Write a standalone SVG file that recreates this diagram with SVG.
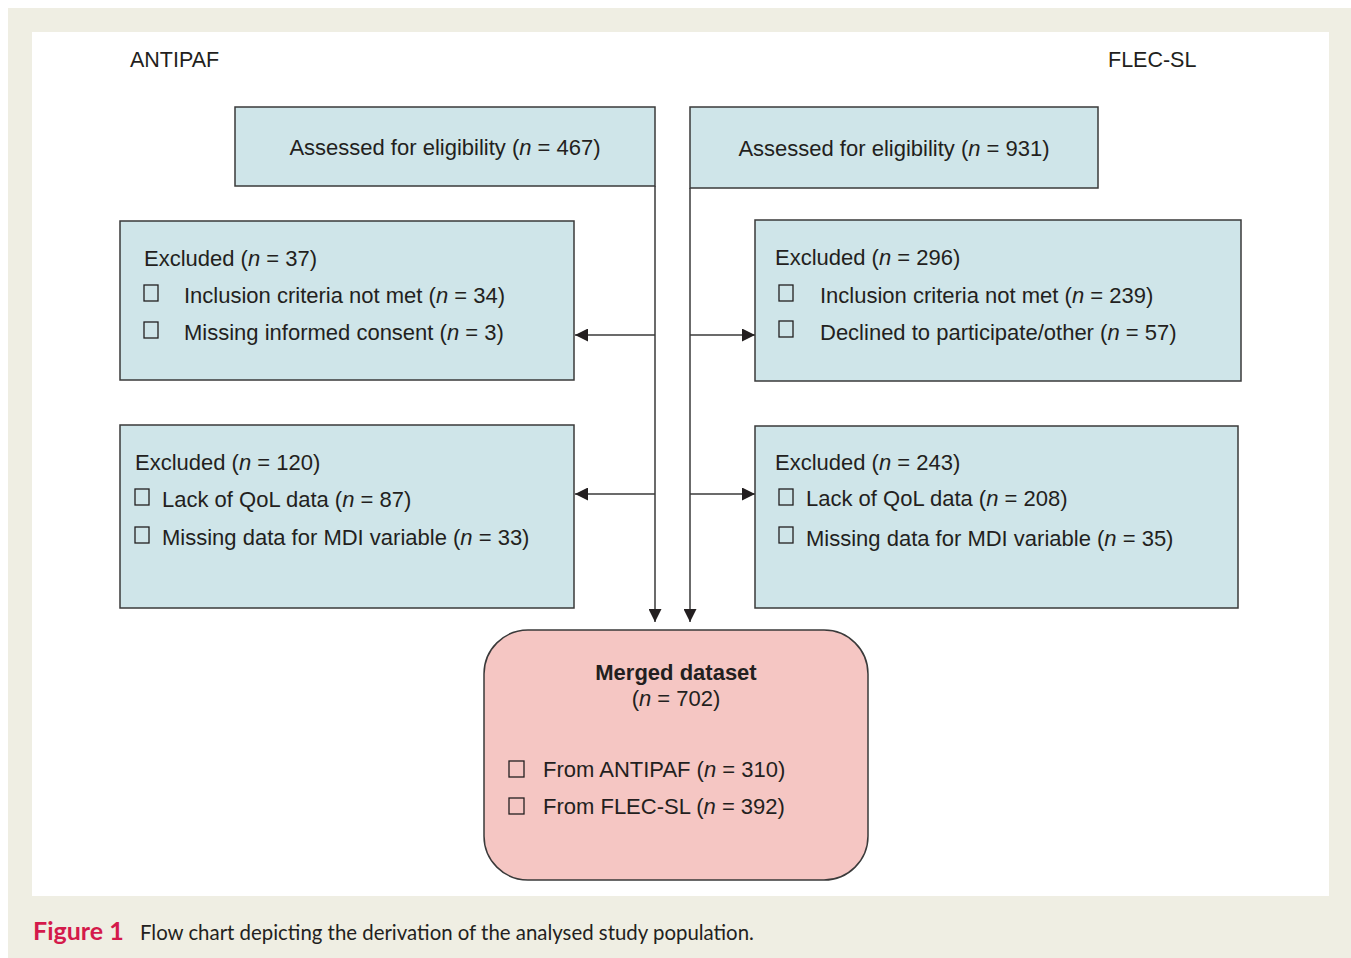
<svg xmlns="http://www.w3.org/2000/svg" width="1351" height="958" viewBox="0 0 1351 958">
<defs>
<style>
.t{font-family:"Liberation Sans",Arial,sans-serif;font-size:22px;fill:#231f20}
.b{fill:#cfe5e9;stroke:#3a3a3a;stroke-width:1.5}
.m{fill:#f5c6c3;stroke:#3a3a3a;stroke-width:1.5}
.cb{fill:none;stroke:#231f20;stroke-width:1.3}
.ln{stroke:#3a3a3a;stroke-width:1.5;fill:none}
.cap{font-family:Lato,"Open Sans",sans-serif;font-size:20.4px;fill:#231f20}
</style>
<marker id="ah2" viewBox="0 0 13 13" refX="13" refY="6.5" markerWidth="13" markerHeight="13" markerUnits="userSpaceOnUse" orient="auto">
<path d="M0,0 L13,6.5 L0,13 z" fill="#231f20"/>
</marker>
</defs>
<rect x="0" y="0" width="1351" height="958" fill="#ffffff"/>
<rect x="8" y="8" width="1343" height="950" fill="#efeee3"/>
<rect x="32" y="32" width="1297" height="864" fill="#ffffff"/>
<text class="t" x="130" y="67" style="font-size:21.5px">ANTIPAF</text>
<text class="t" x="1108" y="67" style="font-size:21.5px">FLEC-SL</text>

<g id="connectors">
<line class="ln" x1="655" y1="186" x2="655" y2="622" marker-end="url(#ah2)"/>
<line class="ln" x1="690" y1="188" x2="690" y2="622" marker-end="url(#ah2)"/>
<line class="ln" x1="655" y1="335" x2="575" y2="335" marker-end="url(#ah2)"/>
<line class="ln" x1="690" y1="335" x2="755" y2="335" marker-end="url(#ah2)"/>
<line class="ln" x1="655" y1="494" x2="575" y2="494" marker-end="url(#ah2)"/>
<line class="ln" x1="690" y1="494" x2="755" y2="494" marker-end="url(#ah2)"/>
</g>

<g id="antipaf-assessed">
<rect class="b" x="235" y="107" width="420" height="79"/>
<text class="t" x="445" y="155" text-anchor="middle">Assessed for eligibility (<tspan font-style="italic">n</tspan> = 467)</text>
</g>
<g id="flec-assessed">
<rect class="b" x="690" y="107" width="408" height="81"/>
<text class="t" x="894" y="156" text-anchor="middle">Assessed for eligibility (<tspan font-style="italic">n</tspan> = 931)</text>
</g>

<g id="antipaf-excluded1">
<rect class="b" x="120" y="221" width="454" height="159"/>
<text class="t" x="144" y="266">Excluded (<tspan font-style="italic">n</tspan> = 37)</text>
<rect class="cb" x="144" y="285" width="14" height="16"/>
<text class="t" x="184" y="303">Inclusion criteria not met (<tspan font-style="italic">n</tspan> = 34)</text>
<rect class="cb" x="144" y="322" width="14" height="16"/>
<text class="t" x="184" y="340">Missing informed consent (<tspan font-style="italic">n</tspan> = 3)</text>
</g>

<g id="flec-excluded1">
<rect class="b" x="755" y="220" width="486" height="161"/>
<text class="t" x="775" y="265">Excluded (<tspan font-style="italic">n</tspan> = 296)</text>
<rect class="cb" x="779" y="285" width="14" height="16"/>
<text class="t" x="820" y="303">Inclusion criteria not met (<tspan font-style="italic">n</tspan> = 239)</text>
<rect class="cb" x="779" y="321" width="14" height="16"/>
<text class="t" x="820" y="340">Declined to participate/other (<tspan font-style="italic">n</tspan> = 57)</text>
</g>

<g id="antipaf-excluded2">
<rect class="b" x="120" y="425" width="454" height="183"/>
<text class="t" x="135" y="470">Excluded (<tspan font-style="italic">n</tspan> = 120)</text>
<rect class="cb" x="135" y="489" width="14" height="16"/>
<text class="t" x="162" y="507">Lack of QoL data (<tspan font-style="italic">n</tspan> = 87)</text>
<rect class="cb" x="135" y="527" width="14" height="16"/>
<text class="t" x="162" y="545">Missing data for MDI variable (<tspan font-style="italic">n</tspan> = 33)</text>
</g>

<g id="flec-excluded2">
<rect class="b" x="755" y="426" width="483" height="182"/>
<text class="t" x="775" y="470">Excluded (<tspan font-style="italic">n</tspan> = 243)</text>
<rect class="cb" x="779" y="489" width="14" height="16"/>
<text class="t" x="806" y="506">Lack of QoL data (<tspan font-style="italic">n</tspan> = 208)</text>
<rect class="cb" x="779" y="527" width="14" height="16"/>
<text class="t" x="806" y="546">Missing data for MDI variable (<tspan font-style="italic">n</tspan> = 35)</text>
</g>

<g id="merged">
<rect class="m" x="484" y="630" width="384" height="250" rx="44" ry="44"/>
<text class="t" x="676" y="680" text-anchor="middle" font-weight="bold">Merged dataset</text>
<text class="t" x="676" y="706" text-anchor="middle">(<tspan font-style="italic">n</tspan> = 702)</text>
<rect class="cb" x="509" y="761" width="15" height="16"/>
<text class="t" x="543" y="777">From ANTIPAF (<tspan font-style="italic">n</tspan> = 310)</text>
<rect class="cb" x="509" y="798" width="15" height="16"/>
<text class="t" x="543" y="814">From FLEC-SL (<tspan font-style="italic">n</tspan> = 392)</text>
</g>

<g id="caption">
<text class="cap" x="33" y="940" font-weight="bold" style="fill:#d41a4b;font-size:25px">Figure 1</text>
<text class="cap" x="140" y="940">Flow chart depicting the derivation of the analysed study population.</text>
</g>
</svg>
